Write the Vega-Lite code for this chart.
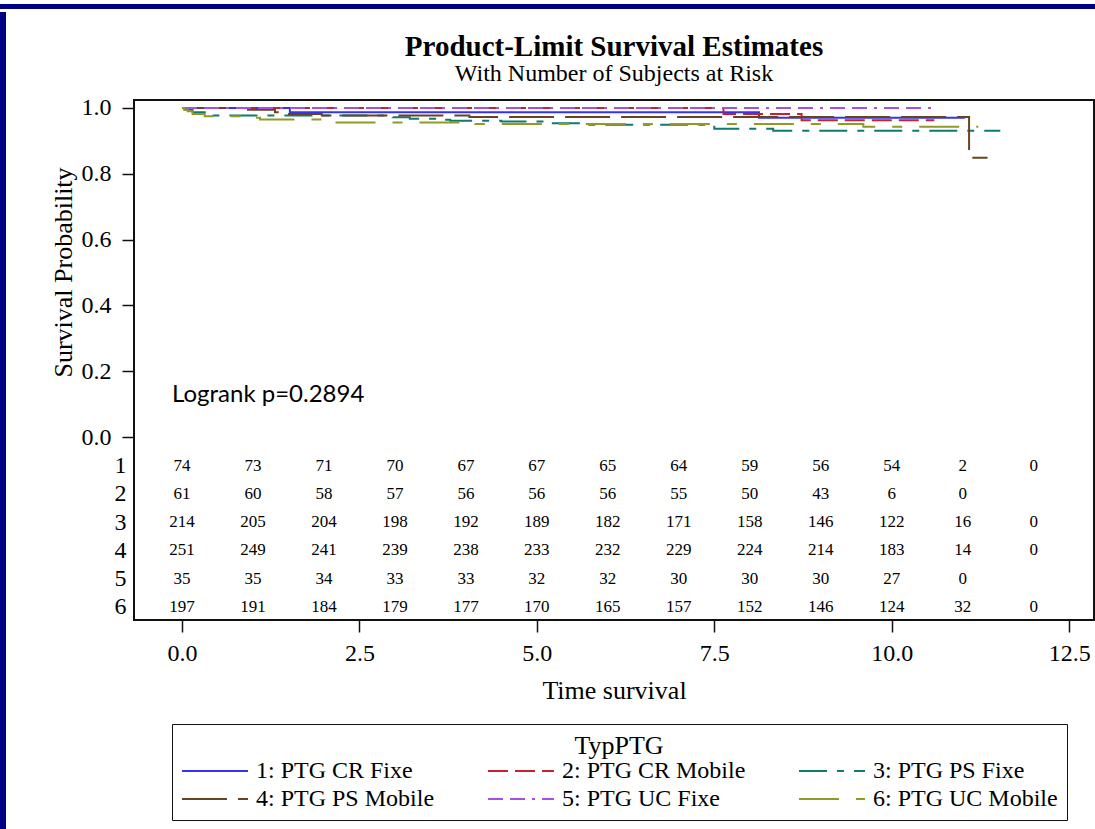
{
  "$schema": "https://vega.github.io/schema/vega-lite/v6.json",
  "background": "white",
  "padding": 0,
  "spacing": 0,
  "config": {
    "view": {"stroke": null},
    "font": "Liberation Serif"
  },
  "datasets": {
    "surv": [
      {"g": "1: PTG CR Fixe", "t": 0, "s": 1.0},
      {"g": "1: PTG CR Fixe", "t": 1.52, "s": 0.987},
      {"g": "1: PTG CR Fixe", "t": 8.13, "s": 0.970},
      {"g": "1: PTG CR Fixe", "t": 11.03, "s": 0.970},
      {"g": "2: PTG CR Mobile", "t": 0, "s": 1.0},
      {"g": "2: PTG CR Mobile", "t": 7.63, "s": 0.982},
      {"g": "2: PTG CR Mobile", "t": 8.73, "s": 0.963},
      {"g": "2: PTG CR Mobile", "t": 10.6, "s": 0.963},
      {"g": "3: PTG PS Fixe", "t": 0, "s": 1.0},
      {"g": "3: PTG PS Fixe", "t": 0.05, "s": 0.995},
      {"g": "3: PTG PS Fixe", "t": 0.15, "s": 0.987},
      {"g": "3: PTG PS Fixe", "t": 0.35, "s": 0.977},
      {"g": "3: PTG PS Fixe", "t": 2.97, "s": 0.972},
      {"g": "3: PTG PS Fixe", "t": 3.21, "s": 0.967},
      {"g": "3: PTG PS Fixe", "t": 3.6, "s": 0.964},
      {"g": "3: PTG PS Fixe", "t": 3.78, "s": 0.961},
      {"g": "3: PTG PS Fixe", "t": 4.5, "s": 0.959},
      {"g": "3: PTG PS Fixe", "t": 5.2, "s": 0.954},
      {"g": "3: PTG PS Fixe", "t": 5.7, "s": 0.949},
      {"g": "3: PTG PS Fixe", "t": 7.5, "s": 0.937},
      {"g": "3: PTG PS Fixe", "t": 8.33, "s": 0.931},
      {"g": "3: PTG PS Fixe", "t": 11.53, "s": 0.931},
      {"g": "4: PTG PS Mobile", "t": 0, "s": 1.0},
      {"g": "4: PTG PS Mobile", "t": 0.93, "s": 0.995},
      {"g": "4: PTG PS Mobile", "t": 1.31, "s": 0.987},
      {"g": "4: PTG PS Mobile", "t": 1.48, "s": 0.982},
      {"g": "4: PTG PS Mobile", "t": 1.97, "s": 0.977},
      {"g": "4: PTG PS Mobile", "t": 4.05, "s": 0.973},
      {"g": "4: PTG PS Mobile", "t": 11.09, "s": 0.849},
      {"g": "4: PTG PS Mobile", "t": 11.35, "s": 0.849},
      {"g": "5: PTG UC Fixe", "t": 0, "s": 1.0},
      {"g": "5: PTG UC Fixe", "t": 10.61, "s": 1.0},
      {"g": "6: PTG UC Mobile", "t": 0, "s": 1.0},
      {"g": "6: PTG UC Mobile", "t": 0.03, "s": 0.995},
      {"g": "6: PTG UC Mobile", "t": 0.08, "s": 0.99},
      {"g": "6: PTG UC Mobile", "t": 0.15, "s": 0.982},
      {"g": "6: PTG UC Mobile", "t": 0.32, "s": 0.975},
      {"g": "6: PTG UC Mobile", "t": 1.03, "s": 0.970},
      {"g": "6: PTG UC Mobile", "t": 1.1, "s": 0.965},
      {"g": "6: PTG UC Mobile", "t": 2.05, "s": 0.956},
      {"g": "6: PTG UC Mobile", "t": 4.13, "s": 0.951},
      {"g": "6: PTG UC Mobile", "t": 9.6, "s": 0.943},
      {"g": "6: PTG UC Mobile", "t": 11.22, "s": 0.943}
    ],
    "risk": [
      {"r": 1, "t": 0, "n": 74}, {"r": 1, "t": 1, "n": 73}, {"r": 1, "t": 2, "n": 71}, {"r": 1, "t": 3, "n": 70}, {"r": 1, "t": 4, "n": 67}, {"r": 1, "t": 5, "n": 67}, {"r": 1, "t": 6, "n": 65}, {"r": 1, "t": 7, "n": 64}, {"r": 1, "t": 8, "n": 59}, {"r": 1, "t": 9, "n": 56}, {"r": 1, "t": 10, "n": 54}, {"r": 1, "t": 11, "n": 2}, {"r": 1, "t": 12, "n": 0},
      {"r": 2, "t": 0, "n": 61}, {"r": 2, "t": 1, "n": 60}, {"r": 2, "t": 2, "n": 58}, {"r": 2, "t": 3, "n": 57}, {"r": 2, "t": 4, "n": 56}, {"r": 2, "t": 5, "n": 56}, {"r": 2, "t": 6, "n": 56}, {"r": 2, "t": 7, "n": 55}, {"r": 2, "t": 8, "n": 50}, {"r": 2, "t": 9, "n": 43}, {"r": 2, "t": 10, "n": 6}, {"r": 2, "t": 11, "n": 0},
      {"r": 3, "t": 0, "n": 214}, {"r": 3, "t": 1, "n": 205}, {"r": 3, "t": 2, "n": 204}, {"r": 3, "t": 3, "n": 198}, {"r": 3, "t": 4, "n": 192}, {"r": 3, "t": 5, "n": 189}, {"r": 3, "t": 6, "n": 182}, {"r": 3, "t": 7, "n": 171}, {"r": 3, "t": 8, "n": 158}, {"r": 3, "t": 9, "n": 146}, {"r": 3, "t": 10, "n": 122}, {"r": 3, "t": 11, "n": 16}, {"r": 3, "t": 12, "n": 0},
      {"r": 4, "t": 0, "n": 251}, {"r": 4, "t": 1, "n": 249}, {"r": 4, "t": 2, "n": 241}, {"r": 4, "t": 3, "n": 239}, {"r": 4, "t": 4, "n": 238}, {"r": 4, "t": 5, "n": 233}, {"r": 4, "t": 6, "n": 232}, {"r": 4, "t": 7, "n": 229}, {"r": 4, "t": 8, "n": 224}, {"r": 4, "t": 9, "n": 214}, {"r": 4, "t": 10, "n": 183}, {"r": 4, "t": 11, "n": 14}, {"r": 4, "t": 12, "n": 0},
      {"r": 5, "t": 0, "n": 35}, {"r": 5, "t": 1, "n": 35}, {"r": 5, "t": 2, "n": 34}, {"r": 5, "t": 3, "n": 33}, {"r": 5, "t": 4, "n": 33}, {"r": 5, "t": 5, "n": 32}, {"r": 5, "t": 6, "n": 32}, {"r": 5, "t": 7, "n": 30}, {"r": 5, "t": 8, "n": 30}, {"r": 5, "t": 9, "n": 30}, {"r": 5, "t": 10, "n": 27}, {"r": 5, "t": 11, "n": 0},
      {"r": 6, "t": 0, "n": 197}, {"r": 6, "t": 1, "n": 191}, {"r": 6, "t": 2, "n": 184}, {"r": 6, "t": 3, "n": 179}, {"r": 6, "t": 4, "n": 177}, {"r": 6, "t": 5, "n": 170}, {"r": 6, "t": 6, "n": 165}, {"r": 6, "t": 7, "n": 157}, {"r": 6, "t": 8, "n": 152}, {"r": 6, "t": 9, "n": 146}, {"r": 6, "t": 10, "n": 124}, {"r": 6, "t": 11, "n": 32}, {"r": 6, "t": 12, "n": 0}
    ],
    "note": [{"label": "Logrank p=0.2894"}],
    "blank": [{"k": ""}]
  },
  "vconcat": [
    {
      "width": 1095, "height": 5,
      "data": {"name": "blank"},
      "mark": {"type": "text"},
      "encoding": {"text": {"field": "k"}},
      "view": {"fill": "#000084", "stroke": null}
    },
    {
      "spacing": 43,
      "hconcat": [
        {
          "width": 6, "height": 824,
          "data": {"name": "blank"},
          "mark": {"type": "text"},
          "encoding": {"text": {"field": "k"}},
          "view": {"fill": "#000084", "stroke": null}
        },
        {
          "spacing": 0,
          "vconcat": [
            {
              "width": 1, "height": 19,
              "data": {"name": "blank"},
              "mark": {"type": "text"},
              "encoding": {"text": {"field": "k"}},
              "view": {"stroke": null}
            },
            {
              "width": 960, "height": 520,
              "view": {"stroke": "#111111", "strokeWidth": 2},
              "title": {
                "text": "Product-Limit Survival Estimates",
                "subtitle": "With Number of Subjects at Risk",
                "anchor": "middle",
                "font": "Liberation Serif", "fontSize": 29, "fontWeight": "bold", "color": "black",
                "subtitleFont": "Liberation Serif", "subtitleFontSize": 24, "subtitleColor": "black",
                "subtitlePadding": 0, "offset": 10
              },
              "layer": [
                {
                  "data": {"name": "surv"},
                  "mark": {"type": "line", "interpolate": "step-after", "strokeWidth": 2},
                  "encoding": {
                    "x": {
                      "field": "t", "type": "quantitative",
                      "scale": {"domain": [-0.676, 12.85], "nice": false, "zero": false},
                      "axis": {
                        "values": [0, 2.5, 5, 7.5, 10, 12.5], "format": ".1f",
                        "domain": false, "grid": false, "tickSize": 12, "tickColor": "#111111", "tickWidth": 1.5,
                        "labelFont": "Liberation Serif", "labelFontSize": 24, "labelColor": "black", "labelPadding": 9,
                        "labelFlush": false, "labelOverlap": false,
                        "title": "Time survival", "titleFont": "Liberation Serif", "titleFontSize": 26,
                        "titleFontWeight": "normal", "titleColor": "black", "titlePadding": 12
                      }
                    },
                    "y": {
                      "field": "s", "type": "quantitative",
                      "scale": {"domain": [-0.5562, 1.0243], "nice": false, "zero": false},
                      "axis": {
                        "values": [0, 0.2, 0.4, 0.6, 0.8, 1.0, -0.0872, -0.1729, -0.2586, -0.3443, -0.4301, -0.5158],
                        "labelExpr": "datum.value > -0.01 ? format(datum.value, '.1f') : '' + (round((-0.0872 - datum.value) / 0.08571) + 1)",
                        "domain": false, "grid": false, "tickSize": 12, "tickColor": "#111111", "tickWidth": 1.5,
                        "tickOpacity": {"condition": {"test": "datum.value < -0.01", "value": 0}, "value": 1},
                        "labelPadding": {"condition": {"test": "datum.value < -0.01", "value": -4}, "value": 11},
                        "labelFont": "Liberation Serif", "labelFontSize": 24, "labelColor": "black",
                        "labelFlush": false, "labelOverlap": false,
                        "title": "Survival Probability", "titleFont": "Liberation Serif", "titleFontSize": 26,
                        "titleFontWeight": "normal", "titleColor": "black",
                        "titleX": -71, "titleY": 172, "titleBaseline": "middle", "titleAngle": 270
                      }
                    },
                    "color": {
                      "field": "g", "type": "nominal",
                      "scale": {
                        "domain": ["1: PTG CR Fixe", "2: PTG CR Mobile", "3: PTG PS Fixe", "4: PTG PS Mobile", "5: PTG UC Fixe", "6: PTG UC Mobile"],
                        "range": ["#3333ee", "#c8202c", "#0f7a72", "#664422", "#a64ee6", "#8f9b23"]
                      },
                      "legend": {
                        "title": "TypPTG", "orient": "none", "legendX": 172, "legendY": 720,
                        "direction": "horizontal", "columns": 3, "symbolType": "M-1,0H5", "symbolSize": 484,
                        "symbolStrokeWidth": 2, "strokeColor": "#111111", "fillColor": "white", "padding": 9,
                        "titleAnchor": "middle", "titleFont": "Liberation Serif", "titleFontSize": 26,
                        "titleFontWeight": "normal", "titleColor": "black", "titlePadding": 0,
                        "labelFont": "Liberation Serif", "labelFontSize": 24, "labelColor": "black", "labelLimit": 400,
                        "labelOffset": 51, "columnPadding": 49, "rowPadding": 4
                      }
                    },
                    "strokeDash": {
                      "field": "g", "type": "nominal",
                      "scale": {
                        "domain": ["1: PTG CR Fixe", "2: PTG CR Mobile", "3: PTG PS Fixe", "4: PTG PS Mobile", "5: PTG UC Fixe", "6: PTG UC Mobile"],
                        "range": [[1, 0], [20, 7], [28, 10, 7, 10], [45, 11], [15, 7, 15, 7, 3, 7], [40, 17, 10, 17]]
                      },
                      "legend": {
                        "title": "TypPTG", "orient": "none", "legendX": 172, "legendY": 720,
                        "direction": "horizontal", "columns": 3, "symbolType": "M-1,0H5", "symbolSize": 484,
                        "symbolStrokeWidth": 2, "strokeColor": "#111111", "fillColor": "white", "padding": 9,
                        "titleAnchor": "middle", "titleFont": "Liberation Serif", "titleFontSize": 26,
                        "titleFontWeight": "normal", "titleColor": "black", "titlePadding": 0,
                        "labelFont": "Liberation Serif", "labelFontSize": 24, "labelColor": "black", "labelLimit": 400,
                        "labelOffset": 51, "columnPadding": 49, "rowPadding": 4
                      }
                    }
                  }
                },
                {
                  "data": {"name": "note"},
                  "mark": {"type": "text", "align": "left", "baseline": "middle", "font": "Lato", "fontSize": 24, "color": "black"},
                  "encoding": {
                    "x": {"datum": -0.14, "type": "quantitative", "scale": {"domain": [-0.676, 12.85], "nice": false, "zero": false}},
                    "y": {"datum": 0.128, "type": "quantitative", "scale": {"domain": [-0.5562, 1.0243], "nice": false, "zero": false}, "axis": null},
                    "text": {"field": "label"}
                  }
                },
                {
                  "data": {"name": "risk"},
                  "mark": {"type": "text", "baseline": "middle", "font": "Liberation Serif", "fontSize": 17, "color": "black"},
                  "encoding": {
                    "x": {"field": "t", "type": "quantitative", "scale": {"domain": [-0.676, 12.85], "nice": false, "zero": false}},
                    "y": {"field": "r", "type": "quantitative", "scale": {"domain": [-11.97, 6.47], "reverse": true, "nice": false, "zero": false}, "axis": null},
                    "text": {"field": "n", "type": "quantitative"}
                  }
                }
              ],
              "resolve": {"scale": {"y": "independent"}}
            }
          ]
        }
      ]
    }
  ]
}
